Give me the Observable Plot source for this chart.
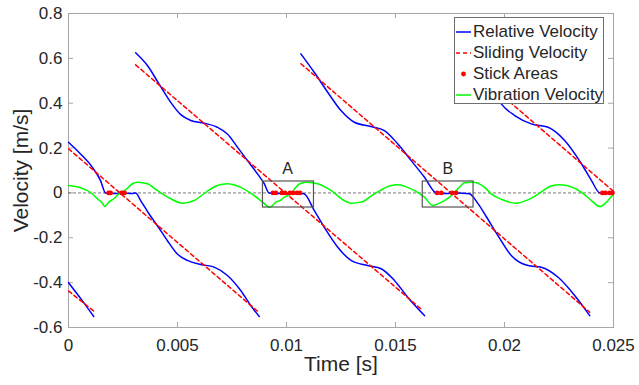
<!DOCTYPE html>
<html>
<head>
<meta charset="utf-8">
<script src="https://cdn.jsdelivr.net/npm/d3@7"></script>
<script src="https://cdn.jsdelivr.net/npm/@observablehq/plot@0.6"></script>
<style>
  body { margin: 0; background: white; }
  #wrap { position: relative; width: 639px; height: 385px; font-family: "Liberation Sans", Arial, sans-serif; color: #262626; }
  #legend { position: absolute; left: 454px; top: 17px; width: 150px; height: 87px; background: white; border: 1px solid #6e6e6e; box-sizing: border-box; }
  .item { position: absolute; left: 0; height: 21px; display: flex; align-items: center; font-size: 17px; white-space: nowrap; }
  .item svg { margin-left: 1px; margin-right: 2px; }
</style>
</head>
<body>
<div id="wrap"></div>
<script>
// ---- axes ----
const xTicks = [0, 0.005, 0.01, 0.015, 0.02, 0.025];
const xTickLabels = ["0", "0.005", "0.01", "0.015", "0.02", "0.025"];
const yTicks = [-0.6, -0.4, -0.2, 0, 0.2, 0.4, 0.6, 0.8];
const yTickLabels = ["-0.6", "-0.4", "-0.2", "0", "0.2", "0.4", "0.6", "0.8"];

// ---- Relative Velocity (blue), separate segments [t, v] ----
const relVel0 = [[0, -0.40], [0.00063, -0.48], [0.00116, -0.551]];
const relVel1 = [[0, 0.226], [0.00055, 0.174], [0.00109, 0.115], [0.00147, 0.055], [0.0017, 0.0],
  [0.0021, -0.003], [0.0025, 0.0], [0.0029, -0.003], [0.00308, 0.0],
  [0.00331, -0.034], [0.00369, -0.093], [0.00407, -0.145], [0.00453, -0.212], [0.00499, -0.272],
  [0.00545, -0.301], [0.00607, -0.319], [0.00668, -0.331], [0.00729, -0.368], [0.0079, -0.435],
  [0.00836, -0.502], [0.00875, -0.551]];
const relVel2 = [[0.00308, 0.625], [0.00362, 0.568], [0.00415, 0.486], [0.00469, 0.404], [0.00515, 0.349],
  [0.00561, 0.323], [0.00622, 0.311], [0.00683, 0.293], [0.00729, 0.263], [0.00775, 0.204],
  [0.00821, 0.144], [0.00867, 0.085], [0.00898, 0.041], [0.0092, 0.0],
  [0.0098, -0.003], [0.0103, 0.0], [0.0108, -0.004],
  [0.01127, -0.078], [0.01173, -0.153], [0.01235, -0.242], [0.01296, -0.301], [0.01372, -0.324],
  [0.01434, -0.338], [0.01495, -0.39], [0.01556, -0.465], [0.01633, -0.547]];
const relVel3 = [[0.01066, 0.62], [0.01127, 0.538], [0.01189, 0.449], [0.0125, 0.367], [0.01311, 0.315],
  [0.01388, 0.296], [0.01449, 0.278], [0.0151, 0.219], [0.01572, 0.144], [0.01633, 0.07], [0.01687, 0.0],
  [0.0173, -0.003], [0.0178, 0.0], [0.01838, -0.004],
  [0.0188, -0.05], [0.01916, -0.105], [0.0197, -0.19], [0.02031, -0.279], [0.02108, -0.324],
  [0.02169, -0.331], [0.02246, -0.376], [0.02322, -0.457], [0.02391, -0.547]];
const relVel4 = [[0.01828, 0.62], [0.0189, 0.54], [0.0195, 0.45], [0.01985, 0.397], [0.02047, 0.345],
  [0.02123, 0.308], [0.022, 0.293], [0.02276, 0.234], [0.02353, 0.13], [0.02399, 0.055], [0.02437, 0.0],
  [0.0247, -0.003], [0.025, 0.0]];

// ---- Sliding Velocity (red dashed), straight segments ----
const slide0 = [[0, -0.437], [0.00116, -0.527]];
const slide1 = [[0, 0.197], [0.0087, -0.53]];
const slide2 = [[0.00308, 0.571], [0.01625, -0.524]];
const slide3 = [[0.01066, 0.576], [0.02391, -0.532]];
const slide4 = [[0.01828, 0.57], [0.025, 0.007]];

// ---- Stick Areas (red dots at v = 0) ----
const stickTimes = [0.00184, 0.00193, 0.00244, 0.00257,
  0.00938, 0.00951, 0.00979, 0.00993, 0.01016, 0.0103, 0.01048, 0.01062,
  0.01691, 0.0171, 0.0176, 0.01778,
  0.02449, 0.02463, 0.02482, 0.02495];

// ---- Vibration Velocity (green) ----
const vibration = [[0, 0.033], [0.00055, 0.023], [0.001, 0.003], [0.00132, -0.026], [0.00155, -0.045],
  [0.00167, -0.061], [0.00185, -0.041], [0.00208, -0.026], [0.00231, -0.004], [0.00262, 0.014],
  [0.00293, 0.041], [0.00316, 0.048], [0.00362, 0.041], [0.00407, 0.011], [0.00469, -0.026],
  [0.00522, -0.046], [0.00576, -0.034], [0.0063, 0.003], [0.00683, 0.033], [0.00729, 0.041],
  [0.0079, 0.025], [0.00852, -0.012], [0.0089, -0.041], [0.00925, -0.064], [0.00951, -0.041],
  [0.0097, -0.034], [0.0099, -0.019], [0.0102, -0.004], [0.01043, 0.025], [0.01066, 0.043],
  [0.01097, 0.048], [0.01143, 0.041], [0.01204, 0.011], [0.01265, -0.034], [0.01296, -0.046],
  [0.01342, -0.041], [0.01403, -0.004], [0.0148, 0.033], [0.0151, 0.037], [0.01572, 0.018],
  [0.01633, -0.019], [0.01671, -0.056], [0.01694, -0.049], [0.01725, -0.034], [0.01756, -0.012],
  [0.01786, 0.018], [0.01817, 0.045], [0.01855, 0.048], [0.01909, 0.025], [0.01939, -0.004],
  [0.0199, -0.03], [0.0205, -0.046], [0.0211, -0.03], [0.0216, -0.002], [0.0221, 0.03],
  [0.02246, 0.037], [0.0229, 0.032], [0.02353, 0.003], [0.02399, -0.034], [0.02437, -0.061],
  [0.02468, -0.041], [0.025, -0.004]];

// ---- zoom boxes A / B ----
const boxNames = ["A", "B"];
const boxX1 = [0.00892, 0.01625];
const boxX2 = [0.01126, 0.01858];
const boxY1 = [-0.065, -0.065];
const boxY2 = [0.051, 0.051];
const boxLabelX = [0.01005, 0.0174];
const boxLabelY = [0.107, 0.107];

// ---- build tables ----
const toRows = (segs) => segs.flatMap((s, k) => s.map(([t, v]) => ({t, v, seg: k})));
const relRows = toRows([relVel0, relVel1, relVel2, relVel3, relVel4]);
const slideRows = toRows([slide0, slide1, slide2, slide3, slide4]);
const vibRows = vibration.map(([t, v]) => ({t, v}));
const boxes = boxNames.map((n, i) => ({n, x1: boxX1[i], x2: boxX2[i], y1: boxY1[i], y2: boxY2[i], lx: boxLabelX[i], ly: boxLabelY[i]}));

const W = 639, H = 385, mL = 68, mR = 26, mT = 13, mB = 58;
const innerW = W - mL - mR, innerH = H - mT - mB;
const axisColor = "#a6a6a6";

const chart = Plot.plot({
  width: W, height: H,
  marginLeft: mL, marginRight: mR, marginTop: mT, marginBottom: mB,
  style: {fontFamily: "'Liberation Sans', Arial, sans-serif", fontSize: "17px", color: "#262626", background: "white", overflow: "visible"},
  x: {domain: [0, 0.025]},
  y: {domain: [-0.6, 0.8]},
  marks: [
    Plot.frame({stroke: axisColor}),
    Plot.tickX(xTicks, {x: d => d, stroke: axisColor, insetTop: innerH - 5}),
    Plot.tickX(xTicks, {x: d => d, stroke: axisColor, insetBottom: innerH - 5}),
    Plot.tickY(yTicks, {y: d => d, stroke: axisColor, insetRight: innerW - 5}),
    Plot.tickY(yTicks, {y: d => d, stroke: axisColor, insetLeft: innerW - 5}),
    Plot.axisX(xTicks, {tickSize: 0, tickPadding: 11, tickFormat: d => xTickLabels[xTicks.indexOf(d)], label: null, fontSize: 17}),
    Plot.axisY(yTicks, {tickSize: 0, tickPadding: 6, tickFormat: d => yTickLabels[yTicks.indexOf(d)], label: null, fontSize: 17}),
    Plot.text(["Time [s]"], {frameAnchor: "bottom", textAnchor: "middle", dy: 43, fontSize: 21}),
    Plot.text(["Velocity [m/s]"], {frameAnchor: "left", textAnchor: "middle", rotate: -90, dx: -47, fontSize: 21}),
    Plot.ruleY([0], {stroke: "#555", strokeWidth: 0.8, strokeDasharray: "3,2"}),
    Plot.line(relRows, {x: "t", y: "v", z: "seg", stroke: "#0000ff", strokeWidth: 1.5, curve: "monotone-x"}),
    Plot.line(slideRows, {x: "t", y: "v", z: "seg", stroke: "#ff0000", strokeWidth: 1.5, strokeDasharray: "4,3"}),
    Plot.line(vibRows, {x: "t", y: "v", stroke: "#00ff00", strokeWidth: 1.5, curve: "monotone-x"}),
    Plot.dot(stickTimes, {x: d => d, y: () => 0, r: 2.4, fill: "#ff0000", stroke: "none"}),
    Plot.rect(boxes, {x1: "x1", x2: "x2", y1: "y1", y2: "y2", fill: "none", stroke: "#555", strokeWidth: 1.2}),
    Plot.text(boxes, {x: "lx", y: "ly", text: "n", fontSize: 16})
  ]
});

const wrap = document.getElementById("wrap");
wrap.appendChild(chart);

// legend overlay
const legendItems = [
  {label: "Relative Velocity", kind: "line", color: "#0000ff"},
  {label: "Sliding Velocity", kind: "dash", color: "#ff0000"},
  {label: "Stick Areas", kind: "dot", color: "#ff0000"},
  {label: "Vibration Velocity", kind: "line", color: "#00ff00"}
];
const legend = document.createElement("div");
legend.id = "legend";
legendItems.forEach((it, i) => {
  const row = document.createElement("div");
  row.className = "item";
  row.style.top = (3 + i * 21) + "px";
  let sample;
  if (it.kind === "line") sample = `<line x1="0" y1="8" x2="15" y2="8" stroke="${it.color}" stroke-width="1.5"/>`;
  else if (it.kind === "dash") sample = `<line x1="0" y1="8" x2="15" y2="8" stroke="${it.color}" stroke-width="1.5" stroke-dasharray="4,3"/>`;
  else sample = `<circle cx="7.5" cy="8" r="2.4" fill="${it.color}"/>`;
  row.innerHTML = `<svg width="15" height="16">${sample}</svg><span>${it.label}</span>`;
  legend.appendChild(row);
});
wrap.appendChild(legend);
</script>
</body>
</html>
